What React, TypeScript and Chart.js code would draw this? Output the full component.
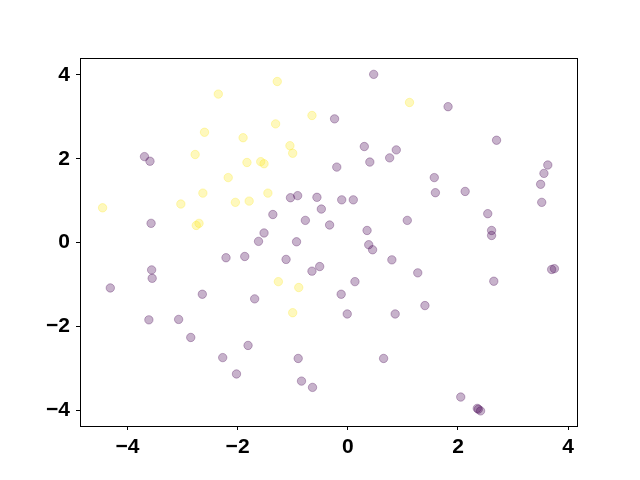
import React, { useEffect, useRef } from "react";
import { Chart, registerables } from "chart.js";

Chart.register(...registerables);

const yellowX = [-2.35, -2.6, -1.9, -2.77, -1.83, -2.17, -2.63, -3.03, -2.04, -1.79, -4.45, -2.7, -2.75, -1.28, 1.12, -0.65, -1.31, -1.05, -1.0, -1.58, -1.52, -1.45, -1.26, -0.89, -1.0];
const yellowY = [3.54, 2.63, 2.5, 2.1, 1.91, 1.55, 1.18, 0.92, 0.96, 0.99, 0.83, 0.46, 0.41, 3.84, 3.34, 3.03, 2.83, 2.31, 2.13, 1.93, 1.88, 1.18, -0.93, -1.07, -1.67];

const purpleX = [
  -3.69, -3.59, -3.57,
  0.47, -0.24, 0.3, 0.88, 0.76, 0.4, -0.2, -1.04, -0.91, -0.56, -0.11, 0.1, -0.48, -1.36, -0.77, -0.33, 1.08, 0.35, -1.52, -1.62, -0.93, 0.38, 0.45,
  1.82, 2.7, 3.63, 3.56, 1.57, 3.5, 1.59, 2.13, 3.52, 2.54, 2.61, 2.61,
  -2.21, -1.87, -3.56, -3.55, -4.31, -2.64, -1.69, -3.61, -3.07, -2.85, -1.81, -2.27, -2.02,
  -1.12, -0.65, -0.51, 0.13, -0.12, -0.01, 0.86, 0.8, -0.9, 0.65, -0.84, -0.64,
  1.27, 1.4, 2.65, 3.7, 3.75, 2.05, 2.35, 2.37, 2.41,
];
const purpleY = [
  2.05, 1.94, 0.46,
  4.01, 2.95, 2.29, 2.21, 2.02, 1.92, 1.8, 1.07, 1.12, 1.08, 1.02, 1.02, 0.8, 0.67, 0.53, 0.42, 0.53, 0.29, 0.23, 0.03, 0.02, -0.05, -0.17,
  3.24, 2.44, 1.85, 1.65, 1.55, 1.39, 1.19, 1.22, 0.96, 0.69, 0.29, 0.17,
  -0.36, -0.33, -0.65, -0.85, -1.08, -1.23, -1.34, -1.84, -1.83, -2.26, -2.45, -2.74, -3.13,
  -0.4, -0.68, -0.57, -0.93, -1.23, -1.7, -1.7, -0.41, -2.76, -2.76, -3.3, -3.45,
  -0.72, -1.5, -0.92, -0.64, -0.62, -3.68, -3.95, -3.97, -4.01,
];

const xTicks = [-4, -2, 0, 2, 4];
const yTicks = [-4, -2, 0, 2, 4];
const xRange = [-4.86, 4.16];
const yRange = [-4.37, 4.4];

const toPoints = (xs: number[], ys: number[]) => xs.map((x, i) => ({ x, y: ys[i] }));
const fmt = (v: number) => (v < 0 ? "\u2212" + Math.abs(v) : String(v));

const frame = {
  id: "frame",
  afterDraw(chart: any) {
    const { ctx, chartArea } = chart;
    ctx.save();
    ctx.strokeStyle = "#000";
    ctx.lineWidth = 1;
    ctx.strokeRect(
      Math.round(chartArea.left) + 0.5,
      Math.round(chartArea.top) + 0.5,
      Math.round(chartArea.right - chartArea.left),
      Math.round(chartArea.bottom - chartArea.top)
    );
    ctx.restore();
  },
};

export default function App() {
  const ref = useRef<HTMLCanvasElement>(null);
  useEffect(() => {
    if (!ref.current) return;
    const font = { family: "'Liberation Sans', Arial, sans-serif", size: 21, weight: "bold" as const };
    const chart = new Chart(ref.current, {
      type: "scatter",
      data: {
        datasets: [
          {
            data: toPoints(purpleX, purpleY),
            backgroundColor: "rgba(68,1,84,0.3)",
            borderColor: "rgba(68,1,84,0.3)",
            borderWidth: 1,
            pointRadius: 4.2,
          },
          {
            data: toPoints(yellowX, yellowY),
            backgroundColor: "rgba(253,231,37,0.3)",
            borderColor: "rgba(253,231,37,0.3)",
            borderWidth: 1,
            pointRadius: 4.2,
          },
        ],
      },
      plugins: [frame],
      options: {
        responsive: false,
        animation: false,
        layout: { padding: { left: 0, top: 58, right: 63, bottom: 0 } },
        plugins: { legend: { display: false }, tooltip: { enabled: false } },
        scales: {
          x: {
            type: "linear",
            min: xRange[0],
            max: xRange[1],
            afterBuildTicks: (s: any) => { s.ticks = xTicks.map((v) => ({ value: v })); },
            afterFit: (s: any) => { s.height = 54; },
            grid: { drawOnChartArea: false, drawTicks: true, tickLength: 4, color: "#000", tickWidth: 1 },
            border: { color: "#000", width: 1 },
            ticks: { color: "#000", font, padding: 5, callback: (v: any) => fmt(Number(v)), maxRotation: 0 },
          },
          y: {
            type: "linear",
            min: yRange[0],
            max: yRange[1],
            afterBuildTicks: (s: any) => { s.ticks = yTicks.map((v) => ({ value: v })); },
            afterFit: (s: any) => { s.width = 80; },
            grid: { drawOnChartArea: false, drawTicks: true, tickLength: 4, color: "#000", tickWidth: 1 },
            border: { color: "#000", width: 1 },
            ticks: { color: "#000", font, padding: 6, callback: (v: any) => fmt(Number(v)) },
          },
        },
      },
    });
    return () => chart.destroy();
  }, []);
  return (
    <div style={{ position: "absolute", left: 0, top: 0, width: 640, height: 480, background: "#fff" }}>
      <canvas ref={ref} width={640} height={480} style={{ width: 640, height: 480 }} />
    </div>
  );
}
